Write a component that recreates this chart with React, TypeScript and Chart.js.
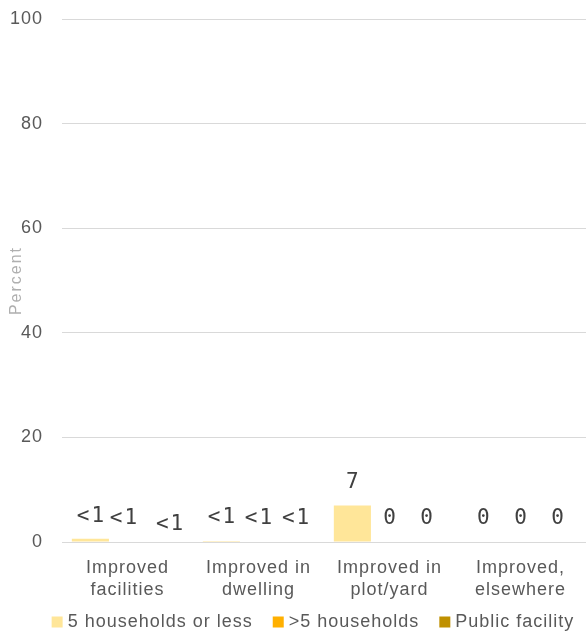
import React, { useEffect, useRef } from "react";
import { Chart, registerables } from "chart.js";

Chart.register(...registerables);

const categories: string[][] = [
  ["Improved", "facilities"],
  ["Improved in", "dwelling"],
  ["Improved in", "plot/yard"],
  ["Improved,", "elsewhere"],
];
const fiveOrLess = [0.6, 0.2, 7, 0];
const moreThanFive = [0.1, 0.1, 0, 0];
const publicFacility = [0.1, 0.1, 0, 0];
const yTicks = [0, 20, 40, 60, 80, 100];

const seriesNames = ["5 households or less", ">5 households", "Public facility"];
const seriesColors = ["#FFE699", "#FFB000", "#BF9000"];
const axisTitle = "Percent";

// small hand nudges for the crowded labels in the first group, keyed "dataset-index" -> [dx, dy]
const labelNudges: Record<string, [number, number]> = {
  "0-0": [0, 1],
  "1-0": [-4, 0],
  "2-0": [5, 6],
};

const formatValue = (v: number) => (v > 0 && v < 1 ? "<1" : String(Math.round(v)));

// slightly airy text everywhere, like the office-style original
const spacing = {
  id: "spacing",
  beforeLayout(chart: any) {
    chart.ctx.letterSpacing = "1px";
  },
  beforeDraw(chart: any) {
    chart.ctx.letterSpacing = "1px";
  },
};

// single-row legend at the foot of the chart, built from the datasets
const bottomLegend = {
  id: "bottomLegend",
  afterDraw(chart: any) {
    const { ctx, chartArea } = chart;
    const box = 11;
    const boxGap = 5;
    const itemGap = 20;
    ctx.save();
    ctx.letterSpacing = "1px";
    ctx.font = '18px "Liberation Sans"';
    ctx.textBaseline = "middle";
    ctx.textAlign = "left";
    const items = chart.data.datasets.map((ds: any) => ({
      text: ds.label as string,
      color: ds.backgroundColor as string,
      w: box + boxGap + ctx.measureText(ds.label).width,
    }));
    const total = items.reduce((s: number, it: any) => s + it.w, 0) + itemGap * (items.length - 1);
    let x = (chartArea.left + chartArea.right) / 2 - 11 - total / 2;
    const y = chart.height - 11;
    items.forEach((it: any) => {
      ctx.fillStyle = it.color;
      ctx.fillRect(x, y - box / 2, box, box);
      ctx.fillStyle = "#595959";
      ctx.fillText(it.text, x + box + boxGap, y);
      x += it.w + itemGap;
    });
    ctx.restore();
  },
};

// rotated y-axis title, drawn beside the tick labels
const yTitle = {
  id: "yTitle",
  afterDraw(chart: any) {
    const { ctx, chartArea } = chart;
    ctx.save();
    ctx.letterSpacing = "2px";
    ctx.font = '16px "Liberation Sans"';
    ctx.fillStyle = "#AFAFAF";
    ctx.textAlign = "center";
    ctx.textBaseline = "middle";
    ctx.translate(17, (chartArea.top + chartArea.bottom) / 2);
    ctx.rotate(-Math.PI / 2);
    ctx.fillText(axisTitle, 0, 0);
    ctx.restore();
  },
};

const valueLabels = {
  id: "valueLabels",
  afterDatasetsDraw(chart: any) {
    const { ctx } = chart;
    ctx.save();
    ctx.letterSpacing = "2px";
    ctx.font = '21px "DejaVu Sans Mono"';
    ctx.fillStyle = "#404040";
    ctx.textAlign = "center";
    ctx.textBaseline = "middle";
    chart.data.datasets.forEach((ds: any, di: number) => {
      const meta = chart.getDatasetMeta(di);
      meta.data.forEach((el: any, i: number) => {
        const v = ds.data[i] as number;
        const nudge = labelNudges[`${di}-${i}`] || [0, 0];
        ctx.fillText(formatValue(v), el.x + nudge[0] + 1, el.y - 23 + nudge[1]);
      });
    });
    ctx.restore();
  },
};

export default function App() {
  const ref = useRef<HTMLCanvasElement | null>(null);

  useEffect(() => {
    if (!ref.current) return;
    const chart = new Chart(ref.current, {
      type: "bar",
      data: {
        labels: categories,
        datasets: [fiveOrLess, moreThanFive, publicFacility].map((d, i) => ({
          label: seriesNames[i],
          data: d,
          backgroundColor: seriesColors[i],
          borderWidth: 0,
          categoryPercentage: 0.85,
          barPercentage: 1,
        })),
      },
      options: {
        animation: false,
        responsive: false,
        maintainAspectRatio: false,
        layout: { padding: { top: 0, right: 0, left: 8, bottom: 25 } },
        scales: {
          x: {
            grid: { display: false },
            border: { display: false },
            ticks: {
              color: "#595959",
              font: { family: "Liberation Sans", size: 18, lineHeight: 1.22 },
              padding: 7,
              maxRotation: 0,
            },
            afterFit: (s: any) => {
              s.height = 66;
            },
          },
          y: {
            min: 0,
            max: 100,
            afterBuildTicks: (axis: any) => {
              axis.ticks = yTicks.map((v) => ({ value: v }));
            },
            grid: { color: "#D9D9D9", lineWidth: 1, drawTicks: false },
            border: { display: false },
            ticks: {
              color: "#595959",
              font: { family: "Liberation Sans", size: 18 },
              padding: 19,
            },
            afterFit: (s: any) => {
              s.width = 54;
              s.paddingTop = 19;
              s.paddingBottom = 0;
            },
          },
        },
        plugins: {
          legend: { display: false },
          tooltip: { enabled: false },
        },
      },
      plugins: [spacing, valueLabels, yTitle, bottomLegend],
    });
    return () => chart.destroy();
  }, []);

  return (
    <div style={{ position: "absolute", left: 0, top: 0, width: 586, height: 633 }}>
      <canvas ref={ref} width={586} height={633} />
    </div>
  );
}
